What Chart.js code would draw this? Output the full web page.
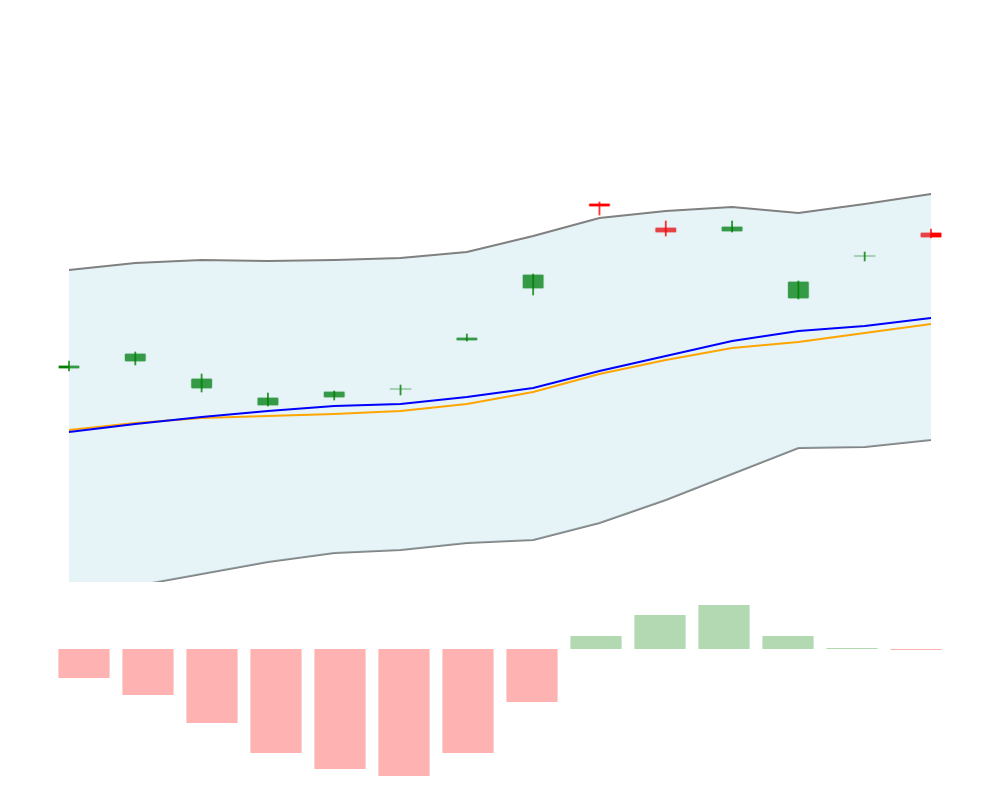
<!DOCTYPE html>
<html>
<head>
<meta charset="utf-8">
<script src="https://cdn.jsdelivr.net/npm/chart.js@4.4.1/dist/chart.umd.min.js"></script>
<style>
  html, body { margin: 0; padding: 0; background: #fff; }
  #wrap { position: relative; width: 1000px; height: 800px; }
  #priceChart { position: absolute; left: 0; top: 0; }
  #histChart { position: absolute; left: 0; top: 590px; }
</style>
</head>
<body>
<div id="wrap">
  <canvas id="priceChart" width="1000" height="582"></canvas>
  <canvas id="histChart" width="1000" height="200"></canvas>
</div>
<script>
// ─── DATA ────────────────────────────────────────────────────────────────
var days = ['D1','D2','D3','D4','D5','D6','D7','D8','D9','D10','D11','D12','D13','D14'];

var openP  = [101.3, 102.0,  99.3, 97.6, 98.4, 99.2, 104.1, 109.3, 117.9, 115.5, 115.0, 108.3, 112.5, 115.0];
var closeP = [101.7, 102.9, 100.4, 98.5, 99.1, 99.4, 104.5, 110.8, 117.5, 114.9, 115.6, 110.1, 112.7, 114.4];
var highP  = [102.1, 103.0, 100.8, 98.9, 99.1, 99.7, 104.8, 110.8, 118.0, 116.1, 116.1, 110.1, 113.0, 115.3];
var lowP   = [101.1, 101.7,  99.0, 97.6, 98.2, 98.7, 104.1, 108.7, 116.7, 114.6, 115.0, 108.3, 112.1, 114.4];

var upperBand = [111.2, 111.9, 112.2, 112.1, 112.2, 112.4, 113.0, 114.6, 116.4, 117.1, 117.5, 116.9, 117.8, 118.8];
var lowerBand = [ 78.6,  79.6,  80.8,  82.0,  82.9,  83.2,  83.9,  84.2,  85.9,  88.2,  90.8,  93.4,  93.5,  94.2];
var smaLine   = [ 95.0,  95.8,  96.5,  97.1,  97.6,  97.8,  98.5,  99.4, 101.1, 102.6, 104.1, 105.1, 105.6, 106.4];
var emaLine   = [ 95.2,  95.9,  96.4,  96.6,  96.8,  97.1,  97.8,  99.0, 100.8, 102.2, 103.4, 104.0, 104.9, 105.8];

var histVals  = [-0.29, -0.46, -0.74, -1.04, -1.20, -1.27, -1.04, -0.53, 0.13, 0.34, 0.44, 0.13, 0.01, -0.01];

// ─── CANDLES ─────────────────────────────────────────────────────────────
var up = closeP.map(function(c, i) { return c >= openP[i]; });
var bodies = openP.map(function(o, i) { return [o, closeP[i]]; });
var wicks  = lowP.map(function(l, i) { return [l, highP[i]]; });

new Chart(document.getElementById('priceChart'), {
  data: {
    labels: days,
    datasets: [
      { type: 'line', data: upperBand, borderColor: 'rgb(128,128,128)', borderWidth: 2, pointRadius: 0, tension: 0,
        fill: { target: 1 }, backgroundColor: 'rgba(173,216,230,0.3)', order: 2 },
      { type: 'line', data: lowerBand, borderColor: 'rgb(128,128,128)', borderWidth: 2, pointRadius: 0, tension: 0,
        fill: false, order: 2 },
      { type: 'line', data: smaLine, borderColor: 'rgb(0,0,255)', borderWidth: 2, pointRadius: 0, tension: 0, fill: false, order: 0 },
      { type: 'line', data: emaLine, borderColor: 'rgb(255,165,0)', borderWidth: 2, pointRadius: 0, tension: 0, fill: false, order: 0 },
      { type: 'bar', data: bodies, grouped: false, barThickness: 22, borderWidth: 1, borderSkipped: false, borderRadius: 2,
        clip: false,
        backgroundColor: up.map(function(u) { return u ? 'rgb(0,128,0)' : 'rgb(255,0,0)'; }),
        borderColor: up.map(function(u) { return u ? 'rgba(0,128,0,0.2)' : 'rgba(255,0,0,0.2)'; }),
        order: 3 },
      { type: 'bar', data: wicks, grouped: false, barThickness: 1.2, borderWidth: 0, clip: false,
        backgroundColor: up.map(function(u) { return u ? 'rgba(0,128,0,0.8)' : 'rgba(255,0,0,0.8)'; }),
        order: 1 }
    ]
  },
  options: {
    responsive: false,
    animation: false,
    layout: { padding: { left: 69, right: 69, top: 0, bottom: 0 } },
    plugins: { legend: { display: false }, tooltip: { enabled: false } },
    scales: {
      x: { display: false, offset: false },
      y: { display: false, min: 80, max: 138.2 }
    }
  }
});

// ─── HISTOGRAM ───────────────────────────────────────────────────────────
new Chart(document.getElementById('histChart'), {
  type: 'bar',
  data: {
    labels: days,
    datasets: [{
      data: histVals,
      backgroundColor: histVals.map(function(v) { return v >= 0 ? 'rgba(0,128,0,0.3)' : 'rgba(255,0,0,0.3)'; }),
      borderWidth: 0,
      categoryPercentage: 1,
      barPercentage: 0.8
    }]
  },
  options: {
    responsive: false,
    animation: false,
    layout: { padding: { left: 52, right: 52, top: 0, bottom: 0 } },
    plugins: { legend: { display: false }, tooltip: { enabled: false } },
    scales: {
      x: { display: false },
      y: { display: false, min: -1.41, max: 0.59 }
    }
  }
});
</script>
</body>
</html>
